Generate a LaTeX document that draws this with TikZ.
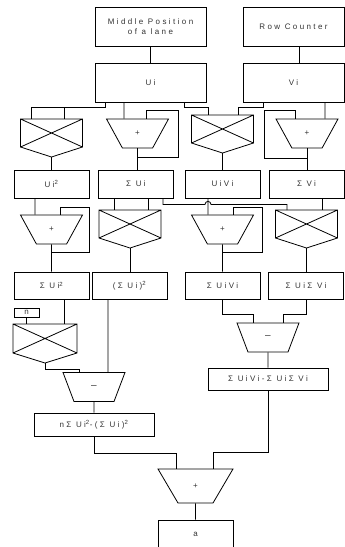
\documentclass[tikz,border=0pt]{standalone}
\usepackage{fontspec}
\setmainfont{Liberation Sans}[LetterSpace=30]
\usetikzlibrary{positioning,shapes.geometric}

\newcommand{\mulx}[1]{%
	\draw (#1.north west) -- (#1.north east) -- (#1.south east) -- ([yshift=-10pt]#1.south) coordinate (#1-out) -- (#1.south west) -- cycle
		(#1.north west) -- (#1.south east) (#1.north east) -- (#1.south west);}

\begin{document}
\begin{tikzpicture}[x=1pt,y=1pt,on grid,line width=0.8pt,text=black!80,
	font=\fontsize{8}{10}\selectfont,
	box/.style={draw,rectangle,inner sep=0pt,minimum width=75pt,minimum height=28pt,align=center},
	adder/.style={draw,trapezium,trapezium angle=62,shape border rotate=180,trapezium stretches,minimum width=62pt,minimum height=29pt,inner sep=0pt},
	sub/.style={adder,font=\fontsize{10}{10}\selectfont},
	mult/.style={rectangle,inner sep=0pt,outer sep=0pt,minimum width=62pt,minimum height=28pt}]
	\useasboundingbox (0,0) rectangle (345,-547);
	\node[box,minimum width=111pt,minimum height=39pt] (mid) at (150.5,-26.5) {Middle Position\\of a lane};
	\node[box,minimum width=101pt,minimum height=39pt] (rc) [right=143pt of mid] {Row Counter};
	\node[box,minimum width=111pt,minimum height=39pt] (ui) [below=56pt of mid] {Ui};
	\node[box,minimum width=101pt,minimum height=39pt] (vi) [below=56pt of rc] {Vi};
	\node[mult] (m1) [below left=50.5pt and 99pt of ui] {};
	\node[adder] (a1) [below left=51pt and 13pt of ui] {+};
	\node[mult] (m2) [below right=46.5pt and 72pt of ui] {};
	\node[adder] (a2) [below right=51pt and 13.5pt of vi] {+};
	\node[box] (ui2) [below=51pt of m1] {Ui\textsuperscript{2}};
	\node[box] (sui) [right=84.5pt of ui2] {Σ Ui};
	\node[box] (uivi) [right=86.5pt of sui] {UiVi};
	\node[box] (svi) [right=84pt of uivi] {Σ Vi};
	\node[adder] (a3) [below=45.5pt of ui2] {+};
	\node[mult] (m3) [below left=40pt and 6pt of sui] {};
	\node[adder] (a4) [below=45.5pt of uivi] {+};
	\node[mult] (m4) [below=40pt of svi] {};
	\node[box,minimum height=27pt] (sui2) [below=56pt of a3] {Σ Ui\textsuperscript{2}};
	\node[box,minimum height=27pt] (suisq) [right=78pt of sui2] {(Σ Ui)\textsuperscript{2}};
	\node[box,minimum height=27pt] (suivi) [below=56pt of a4] {Σ UiVi};
	\node[box,minimum height=27pt] (suisvi) [right=83.5pt of suivi] {Σ UiΣ Vi};
	\node[box,minimum width=25pt,minimum height=9pt] (n) [below left=27pt and 25pt of sui2] {n};
	\node[mult,minimum width=64pt,minimum height=29pt] (m5) [below left=53pt and 6.5pt of sui2] {};
	\node[sub] (s1) [below left=101.5pt and 35.5pt of suisq] {–};
	\node[sub] (s2) [below right=52pt and 45.5pt of suivi] {–};
	\node[box,minimum width=120pt,minimum height=22pt] (d2) [below=41.5pt of s2] {Σ UiVi-Σ UiΣ Vi};
	\node[box,minimum width=120pt,minimum height=23pt] (d1) [below=37.5pt of s1] {nΣ Ui\textsuperscript{2}-(Σ Ui)\textsuperscript{2}};
	\node[adder,trapezium angle=60,minimum width=75pt,minimum height=34pt] (a5) [below right=61.5pt and 101.5pt of d1] {+};
	\node[box] (res) [below=48pt of a5] {a};
	\mulx{m1}
	\mulx{m2}
	\mulx{m3}
	\mulx{m4}
	\mulx{m5}
	\coordinate (hop) at ([xshift=-14.5pt,yshift=-6pt]uivi.south);
	\draw (mid) -- (ui);
	\draw ([xshift=5.5pt]rc.south) -- ([xshift=5.5pt]vi.north);
	\draw ([xshift=-45.5pt]ui.south) -- ++(0,-5) -| ([xshift=-20.5pt]m1.north);
	\draw ([xshift=12.5pt]m1.north) -- ++(0,12);
	\draw ([xshift=-26.5pt]ui.south) -- ([xshift=-13.5pt]a1.north);
	\draw ([xshift=8.5pt]a1.north) |- ++(32,8) |- ([yshift=-9pt]a1.south);
	\draw (a1.south) -- (a1.south |- sui.north);
	\draw ([xshift=33.5pt]ui.south) -- ++(0,-5) -| ([xshift=-14.5pt]m2.north);
	\draw ([xshift=-30.5pt]vi.south) -- ++(0,-5) -| ([xshift=15.5pt]m2.north);
	\draw ([xshift=31.5pt]vi.south) -- ([xshift=18pt]a2.north);
	\draw ([xshift=-12pt]a2.north) |- ++(-31,8) |- ([yshift=-10pt]a2.south);
	\draw (a2.south) -- (a2.south |- svi.north);
	\draw (m1-out) -- (ui2.north);
	\draw (m2-out) -- (uivi.north);
	\draw ([xshift=-16.5pt]ui2.south) -- ([xshift=-16.5pt]a3.north);
	\draw ([xshift=8.5pt]a3.north) |- ++(29,7) |- ([yshift=-8pt]a3.south);
	\draw (a3.south) -- (sui2.north);
	\draw ([xshift=-22pt]sui.south) -- ([xshift=-16pt]m3.north);
	\draw ([xshift=12pt]sui.south) -- ([xshift=18pt]m3.north);
	\draw ([xshift=27pt]sui.south) |- ([xshift=-3pt]hop) arc[start angle=180,end angle=0,radius=3pt] -| ([xshift=-19.5pt]m4.north);
	\draw ([xshift=-14.5pt]uivi.south) -- ([xshift=-14.5pt]a4.north);
	\draw ([xshift=10.5pt]a4.north) |- ++(29,7) |- ([yshift=-8pt]a4.south);
	\draw (a4.south) -- (suivi.north);
	\draw ([xshift=15.5pt]svi.south) -- ([xshift=15.5pt]m4.north);
	\draw (m3-out) -- (m3-out |- suisq.north);
	\draw (m4-out) -- (m4-out |- suisvi.north);
	\draw (n.south) -- (n.south |- m5.north);
	\draw ([xshift=12.5pt]sui2.south) -- ([xshift=12.5pt]sui2.south |- m5.north);
	\draw (m5-out) -- ++(0,-6) -| ([xshift=-15pt]s1.north);
	\draw ([xshift=-21.5pt]suisq.south) -- ([xshift=14pt]s1.north);
	\draw (s1.south) -- (d1.north);
	\draw (suivi.south) -- ++(0,-15) -| ([xshift=-15pt]s2.north);
	\draw (suisvi.south) -- ++(0,-15) -| ([xshift=15pt]s2.north);
	\draw (s2.south) -- (d2.north);
	\draw (d1.south) -- ++(0,-17) -| ([xshift=-19.5pt]a5.north);
	\draw (d2.south) |- ([xshift=17.5pt,yshift=16pt]a5.north) -- ([xshift=17.5pt]a5.north);
	\draw (a5.south) -- (res.north);
\end{tikzpicture}
\end{document}
